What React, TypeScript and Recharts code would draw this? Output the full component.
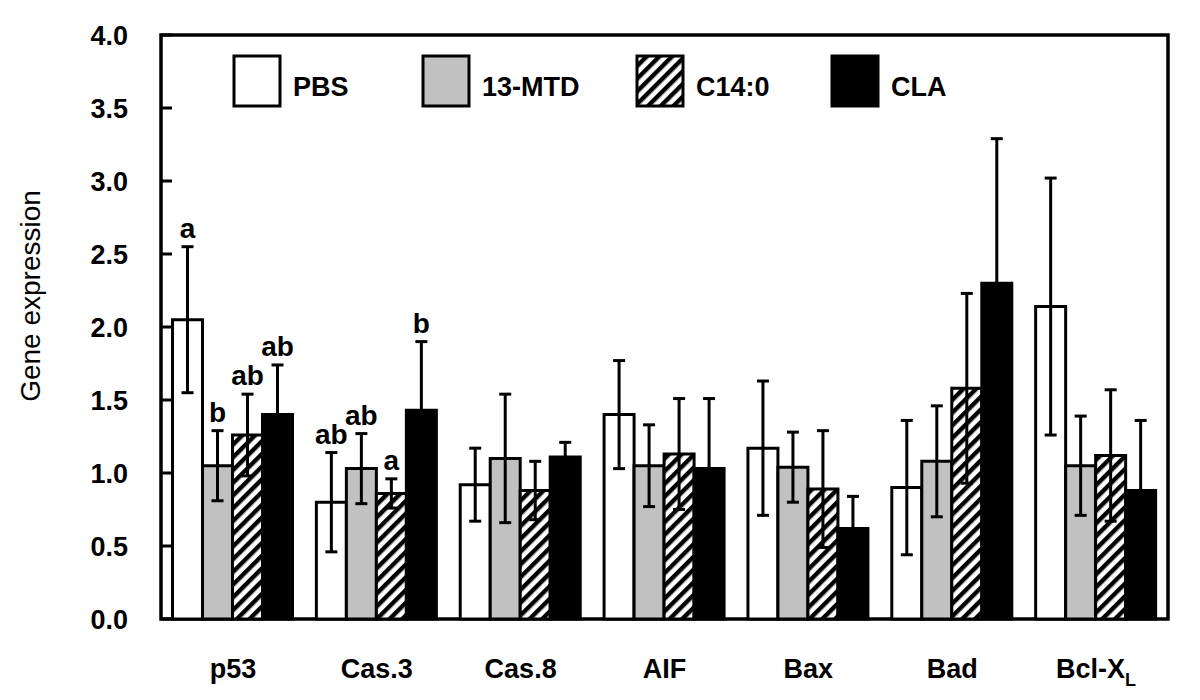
import React from 'react';
import { BarChart, Bar, XAxis, YAxis, ErrorBar, LabelList, ReferenceArea, Label } from 'recharts';

const categories = ['p53', 'Cas.3', 'Cas.8', 'AIF', 'Bax', 'Bad', 'Bcl-XL'];

const pbs = [2.05, 0.8, 0.92, 1.4, 1.17, 0.9, 2.14];
const pbsErr = [0.5, 0.34, 0.25, 0.37, 0.46, 0.46, 0.88];
const mtd = [1.05, 1.03, 1.1, 1.05, 1.04, 1.08, 1.05];
const mtdErr = [0.24, 0.24, 0.44, 0.28, 0.24, 0.38, 0.34];
const c14 = [1.26, 0.86, 0.88, 1.13, 0.89, 1.58, 1.12];
const c14Err = [0.28, 0.1, 0.2, 0.38, 0.4, 0.65, 0.45];
const cla = [1.4, 1.43, 1.11, 1.03, 0.62, 2.3, 0.88];
const claErr = [0.34, 0.47, 0.1, 0.48, 0.22, 0.99, 0.48];

// significance letters (empty = none)
const pbsSig = ['a', 'ab', '', '', '', '', ''];
const mtdSig = ['b', 'ab', '', '', '', '', ''];
const c14Sig = ['ab', 'a', '', '', '', '', ''];
const claSig = ['ab', 'b', '', '', '', '', ''];

const yTicks = [0, 0.5, 1, 1.5, 2, 2.5, 3, 3.5, 4];
const seriesNames = ['PBS', '13-MTD', 'C14:0', 'CLA'];

const data = categories.map((name, i) => ({
  name,
  pbs: pbs[i], pbsErr: pbsErr[i], pbsSig: pbsSig[i],
  mtd: mtd[i], mtdErr: mtdErr[i], mtdSig: mtdSig[i],
  c14: c14[i], c14Err: c14Err[i], c14Sig: c14Sig[i],
  cla: cla[i], claErr: claErr[i], claSig: claSig[i],
}));

const FONT = '"Liberation Sans", Arial, Helvetica, sans-serif';
const GRAY = '#c0c1c0';
const Y_MARGIN = 33;

const YTick = (props: any) => {
  const { x, y, payload } = props;
  return (
    <g>
      <line x1={x + Y_MARGIN} x2={x + Y_MARGIN + 11} y1={y} y2={y} stroke="#000" strokeWidth={3} />
      <text x={x} y={y} dy="0.36em" textAnchor="end" fontFamily={FONT} fontWeight="bold" fontSize={27} fill="#000">
        {Number(payload.value).toFixed(1)}
      </text>
    </g>
  );
};

const XTick = (props: any) => {
  const { x, y, payload } = props;
  const v: string = payload.value;
  return (
    <text x={x} y={y} textAnchor="middle" fontFamily={FONT} fontWeight="bold" fontSize={27} fill="#000">
      {v === 'Bcl-XL' ? (
        <>
          Bcl-X<tspan dy={8} fontSize={18}>L</tspan>
        </>
      ) : v}
    </text>
  );
};

const sigLabel = (valueKey: string, errKey: string) => (props: any) => {
  const vb = props.viewBox || {};
  const x = props.x ?? vb.x;
  const y = props.y ?? vb.y;
  const width = props.width ?? vb.width;
  const height = props.height ?? vb.height;
  const index = props.index;
  const row: any = data[index];
  if (!row || !props.value) return null;
  const perUnit = Math.abs(height) / row[valueKey];
  const errTop = y - row[errKey] * perUnit;
  return (
    <text x={x + width / 2} y={errTop - 9} textAnchor="middle" fontFamily={FONT} fontWeight="bold" fontSize={28} fill="#000">
      {props.value}
    </text>
  );
};

const Hatch = ({ id }: { id: string }) => (
  <pattern id={id} patternUnits="userSpaceOnUse" width={9} height={9} patternTransform="rotate(45)">
    <rect x={0} y={0} width={9} height={9} fill="#fff" />
    <rect x={0} y={0} width={4.4} height={9} fill="#000" />
  </pattern>
);

const legendFills = ['#fff', GRAY, 'url(#hatchLegend)', '#000'];
const legendBoxX = [234, 423, 637, 832];

const App: React.FC = () => {
  return (
    <div style={{ position: 'absolute', left: 0, top: 0, width: 1200, height: 700, background: '#fff' }}>
      <BarChart
        width={1200}
        height={700}
        data={data}
        margin={{ top: 35, right: 32, bottom: 51, left: 0 }}
        barCategoryGap="8%"
        barGap={0}
      >
        <defs>
          <Hatch id="hatch" />
        </defs>
        <XAxis dataKey="name" height={30} axisLine={false} tickLine={false} tickSize={0} tickMargin={59} tick={<XTick />} interval={0} />
        <YAxis
          domain={[0, 4]}
          ticks={yTicks}
          width={161}
          axisLine={false}
          tickLine={false}
          tickSize={0}
          tickMargin={Y_MARGIN}
          tick={<YTick />}
        >
          <Label
            position="insideLeft"
            content={(p: any) => {
              const vb = p.viewBox || { x: 0, y: 35, height: 584 };
              const cx = vb.x + 30;
              const cy = vb.y + vb.height / 2 - 31;
              return (
                <text x={cx} y={cy} transform={`rotate(-90 ${cx} ${cy})`} textAnchor="middle" dy="0.36em" fontFamily={FONT} fontSize={28} fill="#000">
                  Gene expression
                </text>
              );
            }}
          />
        </YAxis>
        <Bar dataKey="pbs" name={seriesNames[0]} fill="#fff" stroke="#000" strokeWidth={3} isAnimationActive={false}>
          <ErrorBar dataKey="pbsErr" width={6} stroke="#000" strokeWidth={3} />
          <LabelList dataKey="pbsSig" content={sigLabel('pbs', 'pbsErr')} />
        </Bar>
        <Bar dataKey="mtd" name={seriesNames[1]} fill={GRAY} stroke="#000" strokeWidth={3} isAnimationActive={false}>
          <ErrorBar dataKey="mtdErr" width={6} stroke="#000" strokeWidth={3} />
          <LabelList dataKey="mtdSig" content={sigLabel('mtd', 'mtdErr')} />
        </Bar>
        <Bar dataKey="c14" name={seriesNames[2]} fill="url(#hatch)" stroke="#000" strokeWidth={3} isAnimationActive={false}>
          <ErrorBar dataKey="c14Err" width={6} stroke="#000" strokeWidth={3} />
          <LabelList dataKey="c14Sig" content={sigLabel('c14', 'c14Err')} />
        </Bar>
        <Bar dataKey="cla" name={seriesNames[3]} fill="#000" stroke="#000" strokeWidth={3} isAnimationActive={false}>
          <ErrorBar dataKey="claErr" width={6} stroke="#000" strokeWidth={3} />
          <LabelList dataKey="claSig" content={sigLabel('cla', 'claErr')} />
        </Bar>
        <ReferenceArea y1={0} y2={4} fill="none" stroke="#000" strokeWidth={3.5} />
      </BarChart>
      <svg width={1200} height={130} style={{ position: 'absolute', left: 0, top: 0, pointerEvents: 'none' }}>
        <defs>
          <Hatch id="hatchLegend" />
        </defs>
        {seriesNames.map((n, i) => (
          <g key={n}>
            <rect x={legendBoxX[i]} y={56} width={46} height={50} fill={legendFills[i]} stroke="#000" strokeWidth={3} />
            <text x={legendBoxX[i] + 59} y={96} fontFamily={FONT} fontWeight="bold" fontSize={27} fill="#000">
              {n}
            </text>
          </g>
        ))}
      </svg>
    </div>
  );
};

export default App;
